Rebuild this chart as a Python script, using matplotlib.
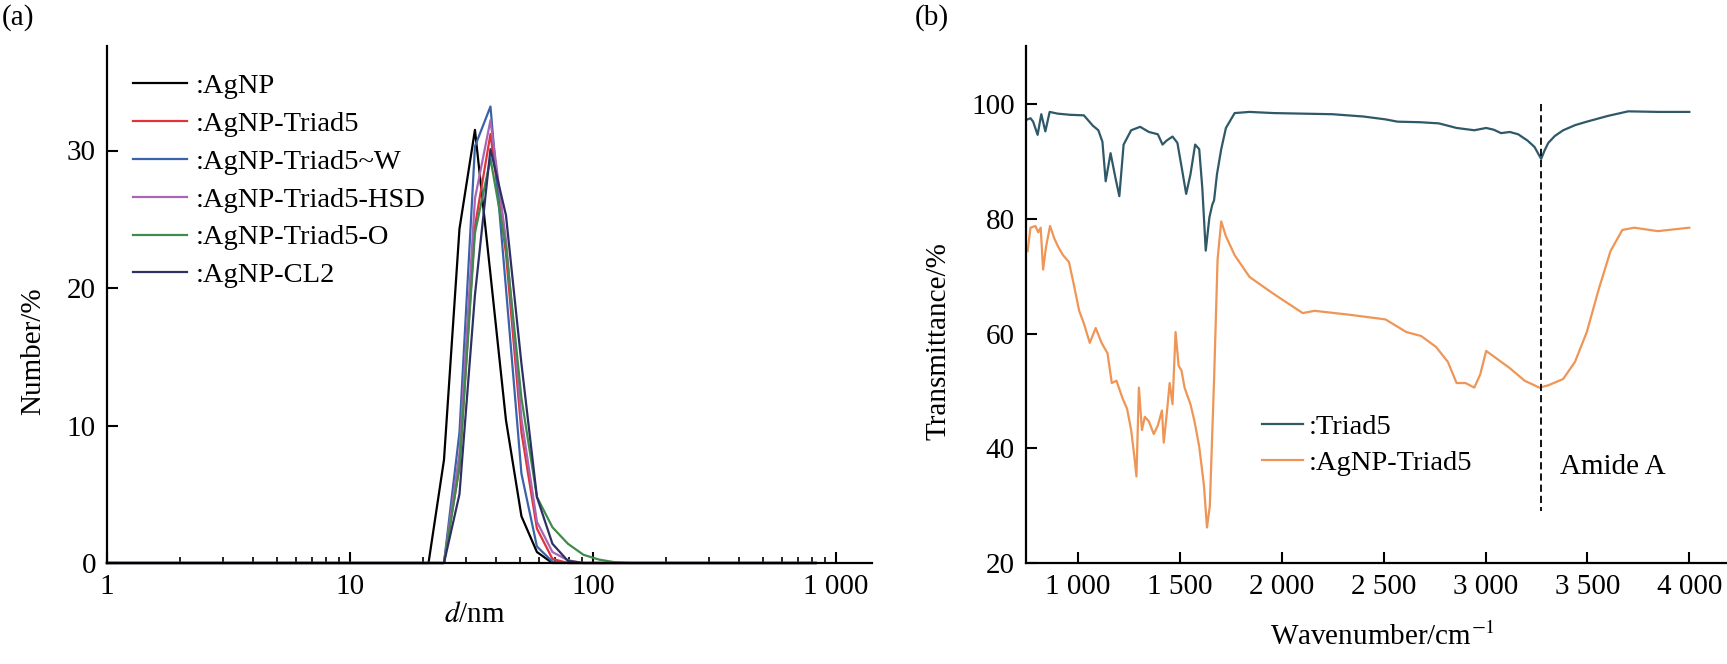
import matplotlib
matplotlib.use("Agg")
import matplotlib.pyplot as plt
from matplotlib.ticker import FixedLocator, FixedFormatter, LogLocator, NullFormatter

plt.rcParams["font.family"] = ["Liberation Serif", "DejaVu Serif"]
plt.rcParams["mathtext.fontset"] = "stix"

# ---- (a) DLS number distribution ----
size_nm = [1, 18.17, 21.04, 24.36, 28.21, 32.67, 37.84, 43.82, 50.75, 58.77,
           68.06, 78.82, 91.28, 105.7, 122.4, 141.8, 164.2, 825]
dls_names = [":AgNP", ":AgNP-Triad5", ":AgNP-Triad5~W", ":AgNP-Triad5-HSD",
             ":AgNP-Triad5-O", ":AgNP-CL2"]
dls_colors = ["#000000", "#e0343c", "#3a62a8", "#a966b4", "#3f8a4c", "#2e2f62"]
agnp = [0, 0, 0, 7.5, 24.3, 31.5, 21.0, 10.4, 3.4, 0.8, 0, 0, 0, 0, 0, 0, 0, 0]
agnp_triad5 = [0, 0, 0, 0, 7.0, 24.5, 31.2, 22.5, 9.5, 2.5, 0.3, 0, 0, 0, 0, 0, 0, 0]
agnp_triad5_w = [0, 0, 0, 0, 9.5, 30.3, 33.2, 20.0, 6.5, 1.2, 0.1, 0, 0, 0, 0, 0, 0, 0]
agnp_triad5_hsd = [0, 0, 0, 0, 8.0, 26.5, 32.2, 23.5, 10.5, 3.0, 0.8, 0.2, 0, 0, 0, 0, 0, 0]
agnp_triad5_o = [0, 0, 0, 0, 7.0, 24.0, 29.4, 23.0, 12.0, 4.8, 2.6, 1.4, 0.6, 0.25, 0.06, 0, 0, 0]
agnp_cl2 = [0, 0, 0, 0, 5.0, 19.5, 30.1, 25.3, 14.5, 4.8, 1.4, 0.15, 0, 0, 0, 0, 0, 0]
dls_series = [agnp, agnp_triad5, agnp_triad5_w, agnp_triad5_hsd, agnp_triad5_o, agnp_cl2]

# ---- (b) FTIR spectra ----
wn_triad5 = [753, 767, 780, 802, 820, 840, 861, 900, 960, 1029, 1073, 1100, 1120,
             1136, 1160, 1185, 1203, 1224, 1261, 1305, 1348, 1392, 1415, 1435,
             1464, 1488, 1508, 1531, 1552, 1575, 1595, 1610, 1627, 1645, 1659,
             1668, 1682, 1703, 1726, 1769, 1842, 1958, 2100, 2248, 2400, 2509,
             2568, 2680, 2771, 2858, 2945, 3003, 3040, 3076, 3119, 3160, 3206,
             3240, 3273, 3290, 3308, 3340, 3381, 3440, 3497, 3600, 3700, 3850, 4000]
t_triad5 = [97.4, 97.6, 97.0, 94.7, 98.3, 95.3, 98.7, 98.4, 98.2, 98.1, 96.3,
            95.5, 93.5, 86.6, 91.5, 87.0, 84.0, 93.0, 95.5, 96.1, 95.2, 94.8,
            93.0, 93.7, 94.4, 93.3, 89.2, 84.4, 87.8, 93.0, 92.2, 85.5, 74.5,
            80.3, 82.5, 83.3, 87.8, 92.2, 95.9, 98.5, 98.7, 98.5, 98.4, 98.3,
            97.9, 97.4, 97.0, 96.9, 96.7, 95.9, 95.5, 95.9, 95.6, 95.0, 95.2,
            94.8, 93.7, 92.6, 90.5, 92.0, 93.3, 94.5, 95.5, 96.4, 97.0, 98.0,
            98.8, 98.7, 98.7]
wn_agnp = [753, 767, 791, 805, 817, 829, 843, 863, 884, 904, 927, 956, 980,
           1006, 1029, 1058, 1087, 1116, 1145, 1166, 1189, 1218, 1241, 1261,
           1276, 1287, 1299, 1314, 1328, 1348, 1372, 1392, 1412, 1421, 1435,
           1450, 1464, 1479, 1494, 1508, 1523, 1552, 1572, 1595, 1618, 1633,
           1647, 1668, 1685, 1703, 1726, 1769, 1842, 1958, 2103, 2161, 2335,
           2509, 2611, 2684, 2757, 2815, 2858, 2902, 2945, 2974, 3003, 3061,
           3119, 3192, 3264, 3308, 3381, 3439, 3497, 3555, 3613, 3671, 3729,
           3845, 4000]
t_agnp = [74.4, 78.5, 78.8, 77.7, 78.5, 71.2, 75.1, 78.8, 76.6, 75.1, 73.7,
          72.5, 68.5, 64.0, 61.8, 58.4, 61.0, 58.4, 56.6, 51.4, 51.8, 48.8,
          46.9, 43.2, 38.8, 35.1, 50.6, 43.2, 45.5, 44.7, 42.5, 44.0, 46.6,
          41.0, 45.8, 51.4, 47.7, 60.3, 54.4, 53.6, 50.6, 47.7, 44.7, 40.3,
          33.6, 26.2, 29.9, 52.1, 72.9, 79.6, 77.0, 73.7, 69.9, 67.0, 63.6,
          64.0, 63.3, 62.5, 60.3, 59.6, 57.7, 55.1, 51.4, 51.4, 50.6, 52.9,
          57.0, 55.5, 54.0, 51.8, 50.6, 51.0, 52.1, 55.1, 60.3, 67.7, 74.4,
          78.1, 78.5, 77.9, 78.5]
ftir_names = [":Triad5", ":AgNP-Triad5"]
ftir_colors = ["#2f5868", "#ef9556"]
amide_a_wn = 3272

W, H = 1727, 664
fig = plt.figure(figsize=(W / 100, H / 100), dpi=100)
ax1 = fig.add_axes([107 / W, 1 - 563 / H, (872 - 107) / W, (563 - 46) / H])
ax2 = fig.add_axes([1026 / W, 1 - 563 / H, (1726 - 1026) / W, (563 - 46) / H])

for ax in (ax1, ax2):
    for s in ("top", "right"):
        ax.spines[s].set_visible(False)
    for s in ("left", "bottom"):
        ax.spines[s].set_linewidth(1.6)
    ax.tick_params(which="major", direction="in", length=8, width=1.5,
                   labelsize=21, pad=8)
    ax.tick_params(which="minor", direction="in", length=4, width=1.2)

# (a)
for name, col, vals in zip(dls_names, dls_colors, dls_series):
    ax1.plot(size_nm, vals, color=col, lw=1.6, label=name, clip_on=False)
ax1.set_xscale("log")
ax1.set_xlim(1, 1406)
ax1.set_ylim(0, 37.6)
ax1.xaxis.set_major_locator(FixedLocator([1, 10, 100, 1000]))
ax1.xaxis.set_major_formatter(FixedFormatter(["1", "10", "100", "1 000"]))
ax1.xaxis.set_minor_locator(LogLocator(base=10, subs=range(2, 10)))
ax1.xaxis.set_minor_formatter(NullFormatter())
ax1.set_yticks([0, 10, 20, 30])
ax1.set_xlabel(r"$d$/nm", fontsize=21)
ax1.set_ylabel("Number/%", fontsize=21)
ax1.xaxis.set_label_coords(0.48, -0.075)
ax1.yaxis.set_label_coords(-0.08, 0.41)
ax1.legend(loc="upper left", bbox_to_anchor=(133 / W, 1 - 73 / H),
           bbox_transform=fig.transFigure, frameon=False, fontsize=20.5,
           handlelength=1.9, handletextpad=0.3, labelspacing=0.42,
           borderpad=0, borderaxespad=0)

# (b)
ax2.plot(wn_triad5, t_triad5, color=ftir_colors[0], lw=1.6, label=ftir_names[0])
ax2.plot(wn_agnp, t_agnp, color=ftir_colors[1], lw=1.6, label=ftir_names[1])
ax2.plot([amide_a_wn, amide_a_wn], [100, 29], color="black", lw=1.3,
         dashes=(4, 2.2))
ax2.text(3365, 36.8, "Amide A", fontsize=21, ha="left", va="center")
ax2.set_xlim(745, 4180)
ax2.set_ylim(20, 110.2)
ax2.set_xticks([1000, 1500, 2000, 2500, 3000, 3500, 4000])
ax2.set_xticklabels(["1 000", "1 500", "2 000", "2 500", "3 000", "3 500", "4 000"])
ax2.set_yticks([20, 40, 60, 80, 100])
ax2.set_xlabel(r"Wavenumber/cm$^{-1}$", fontsize=21)
ax2.set_ylabel("Transmittance/%", fontsize=21)
ax2.xaxis.set_label_coords(0.51, -0.115)
ax2.yaxis.set_label_coords(-0.107, 0.43)
ax2.legend(loc="upper left", bbox_to_anchor=(1262 / W, 1 - 414 / H),
           bbox_transform=fig.transFigure, frameon=False, fontsize=20.5,
           handlelength=1.45, handletextpad=0.2, labelspacing=0.35,
           borderpad=0, borderaxespad=0)

fig.text(2 / W, 1 - 18 / H, "(a)", fontsize=21, ha="left", va="center")
fig.text(915 / W, 1 - 18 / H, "(b)", fontsize=21, ha="left", va="center")

fig.savefig("out.png", dpi=100)
